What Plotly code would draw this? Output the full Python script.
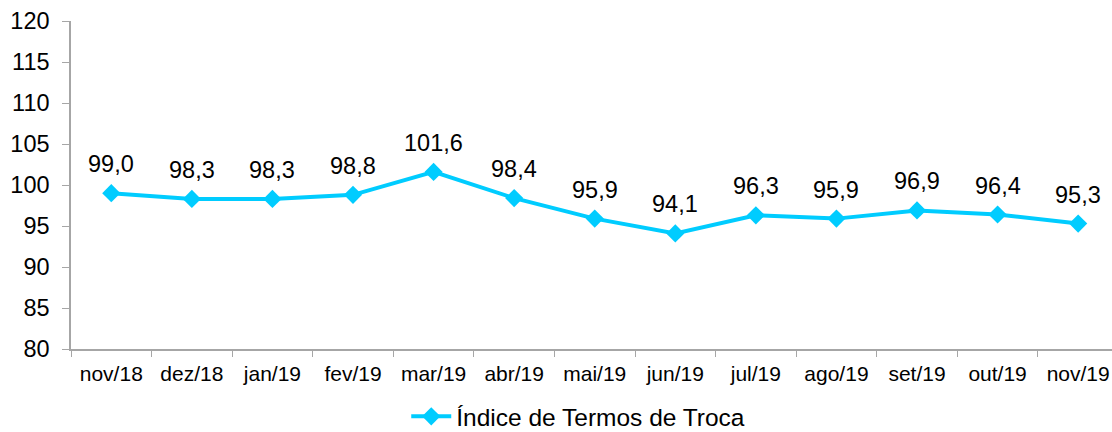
import plotly.graph_objects as go

categories = ["nov/18", "dez/18", "jan/19", "fev/19", "mar/19", "abr/19", "mai/19",
              "jun/19", "jul/19", "ago/19", "set/19", "out/19", "nov/19"]
values = [99.0, 98.3, 98.3, 98.8, 101.6, 98.4, 95.9, 94.1, 96.3, 95.9, 96.9, 96.4, 95.3]
labels = [f"{v:.1f}".replace(".", ",") for v in values]
series_name = "Índice de Termos de Troca"

color = "#00CCFF"
font = "Liberation Sans, Arial, sans-serif"

fig = go.Figure()
fig.add_trace(go.Scatter(
    x=categories, y=values, mode="lines+markers", name=series_name,
    line=dict(color=color, width=4),
    marker=dict(symbol="diamond", size=14, color=color),
))

for c, v, t in zip(categories, values, labels):
    fig.add_annotation(x=c, y=v, text=t, showarrow=False, yanchor="bottom",
                       yshift=14, font=dict(size=23.5, color="#000000", family=font))

fig.update_layout(
    width=1112, height=432,
    margin=dict(l=71, r=0, t=21, b=83, autoexpand=False),
    paper_bgcolor="white", plot_bgcolor="white",
    font=dict(family=font, color="#000000"),
    showlegend=True,
    legend=dict(orientation="h", xref="container", yref="container",
                x=0.52, xanchor="center", y=0.036, yanchor="middle",
                font=dict(size=24.5, family=font), itemwidth=40),
    xaxis=dict(
        type="category", range=[-0.5, 12.42], automargin=False,
        showline=True, linecolor="#A6A6A6", linewidth=1.5,
        ticks="outside", tickson="boundaries", ticklen=6, tickcolor="#A6A6A6",
        tickfont=dict(size=21, family=font), showgrid=False, zeroline=False,
        ticklabelstandoff=5,
    ),
    yaxis=dict(
        range=[80, 120], dtick=5, tick0=80, automargin=False,
        showline=True, linecolor="#A6A6A6", linewidth=1.5,
        ticks="outside", ticklen=7, tickcolor="#A6A6A6",
        tickfont=dict(size=23.5, family=font), showgrid=False, zeroline=False,
        ticklabelstandoff=8,
    ),
)

fig.write_html("out.html", config={"displayModeBar": False},
               post_script="document.body.style.margin='0';document.body.style.overflow='hidden';")
